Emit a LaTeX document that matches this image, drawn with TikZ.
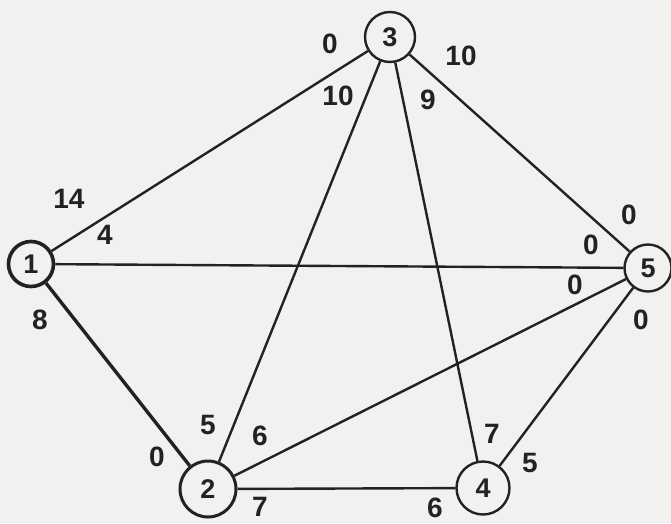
\documentclass[tikz,border=0pt]{standalone}
\usepackage{fontspec}
\setmainfont{Liberation Sans}
\definecolor{ink}{HTML}{222222}
\definecolor{paper}{HTML}{F1F1EF}
\begin{document}
\begin{tikzpicture}[x=1pt,y=-1pt,
  vtx/.style={circle, draw=ink, line width=2.4pt, inner sep=0pt, font=\bfseries\fontsize{27}{27}\selectfont, text=ink},
  edge/.style={draw=ink, line width=2.4pt},
  lbl/.style={font=\bfseries\fontsize{28}{28}\selectfont, text=ink, inner sep=0pt}]
\fill[paper] (0,0) rectangle (671,523);
\useasboundingbox (0,0) rectangle (671,523);
% vertices
\node[vtx, minimum size=45pt, line width=3.6pt] (n1) at (31,264) {1};
\node[vtx, minimum size=56pt, line width=3pt] (n2) at (208,489) {2};
\node[vtx, minimum size=50pt] (n3) at (390,37) {3};
\node[vtx, minimum size=53pt] (n4) at (483,488) {4};
\node[vtx, minimum size=47pt] (n5) at (648,268) {5};
% edges
\draw[edge] (n1) -- (n3);
\draw[edge] (n1) -- (n5);
\draw[edge, line width=3.4pt] (n1) -- (n2);
\draw[edge] (n3) -- (n2);
\draw[edge] (n3) -- (n4);
\draw[edge] (n3) -- (n5);
\draw[edge] (n2) -- (n5);
\draw[edge] (n2) -- (n4);
\draw[edge] (n4) -- (n5);
% labels
\node[lbl] (l13a) at (330,44) {0};
\node[lbl] (l35a) at (461,56) {10};
\node[lbl] (l32a) at (338,96) {10};
\node[lbl] (l34a) at (428,100) {9};
\node[lbl] (l13b) at (69,199) {14};
\node[lbl] (l15a) at (105,235) {4};
\node[lbl] (l35b) at (629,215) {0};
\node[lbl] (l15b) at (591,245) {0};
\node[lbl] (l25b) at (575,285) {0};
\node[lbl] (l45b) at (641,320) {0};
\node[lbl] (l12a) at (40,320) {8};
\node[lbl] (l32b) at (208,425) {5};
\node[lbl] (l25a) at (260,436) {6};
\node[lbl] (l12b) at (157,457) {0};
\node[lbl] (l24a) at (260,507) {7};
\node[lbl] (l24b) at (435,508) {6};
\node[lbl] (l34b) at (492,434) {7};
\node[lbl] (l45a) at (530,463) {5};
\end{tikzpicture}
\end{document}
